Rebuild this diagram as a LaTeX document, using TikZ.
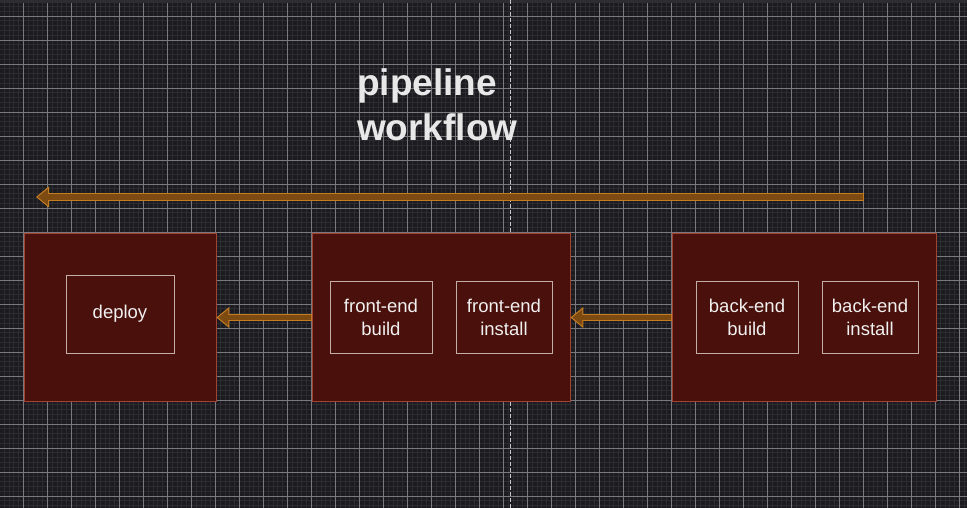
\documentclass[tikz,border=0pt]{standalone}
\usepackage{fontspec}
\setmainfont{Liberation Sans}
\usepackage{xcolor}
\usetikzlibrary{arrows.meta}

\definecolor{canvas}{HTML}{1C1C20}
\definecolor{topband}{HTML}{2E2E32}
\definecolor{minorgrid}{HTML}{2D2D31}
\definecolor{majorgrid}{HTML}{7A7A7E}
\definecolor{guideline}{HTML}{C8C8C8}
\definecolor{stagefill}{HTML}{4A100B}
\definecolor{stageedge}{HTML}{A44232}
\definecolor{jobedge}{HTML}{C2AEA6}
\definecolor{jobtext}{HTML}{F0F0F0}
\definecolor{titletext}{HTML}{E8E8E8}
\definecolor{flowfill}{HTML}{7D4A12}
\definecolor{flowedge}{HTML}{C47C22}

\begin{document}
\begin{tikzpicture}[x = 1pt, y = 1pt,
		stage/.style = {draw = stageedge, fill = stagefill, line width = 0.8pt, minimum height = 168pt, inner sep = 0pt},
		job/.style = {draw = jobedge, line width = 0.8pt, align = center, text = jobtext, font = \fontsize{18.5}{23}\selectfont, inner sep = 0pt},
		title/.style = {font = \fontsize{37}{45}\selectfont\bfseries, text = titletext, align = left, inner sep = 0pt},
		flow/.style = {draw = flowedge, line width = 7.5pt, -{Triangle[length = 13pt, width = 21pt, line width = 1pt, fill = flowfill]}, postaction = {draw = flowfill, line width = 5.5pt, -, shorten <=1pt, shorten >=12pt}}]
			\def\W{967};
			\def\H{508};

			\useasboundingbox (0,0) rectangle (\W,\H);

			\begin{scope}
				\clip (0,0) rectangle (\W,\H);
				\fill [canvas] (0,0) rectangle (\W,\H);
				\begin{scope}[shift = {(23.5,12)}]
					\draw [minorgrid, line width = 0.9pt, step = 4.8] (-24,-24) grid (960,504);
					\draw [majorgrid, line width = 0.7pt, step = 24] (-24,-24) grid (960,504);
				\end{scope}
				\fill [topband] (0,505) rectangle (\W,\H);
				\draw [guideline, line width = 0.8pt, dash pattern = on 4pt off 2pt] (510,0) -- (510,\H);
			\end{scope}

			\node [title, anchor = north west] (title) at (357,440) {pipeline\\workflow};

			\begin{scope}
				\node [stage, minimum width = 192pt] (deploystage) at (120,190.5) {};
				\node [stage, minimum width = 258pt] (frontstage) at (441,190.5) {};
				\node [stage, minimum width = 264pt] (backstage) at (804,190.5) {};
			\end{scope}

			\begin{scope}
				\node [job, minimum width = 108pt, minimum height = 78pt] (deploy) at (120,194) {deploy};
				\node [job, minimum width = 102pt, minimum height = 72pt] (febuild) at (381,191) {front-end\\build};
				\node [job, minimum width = 96pt, minimum height = 72pt] (feinstall) at (504,191) {front-end\\install};
				\node [job, minimum width = 102pt, minimum height = 72pt] (bebuild) at (747,191) {back-end\\build};
				\node [job, minimum width = 96pt, minimum height = 72pt] (beinstall) at (870,191) {back-end\\install};
			\end{scope}

			\coordinate (flow start) at (864,311);
			\coordinate (flow end) at (36,311);

			\begin{scope}
				\draw [flow] (flow start) -- (flow end);
				\draw [flow] (frontstage.west) -- (deploystage.east);
				\draw [flow] (backstage.west) -- (frontstage.east);
			\end{scope}
		\end{tikzpicture}
\end{document}
